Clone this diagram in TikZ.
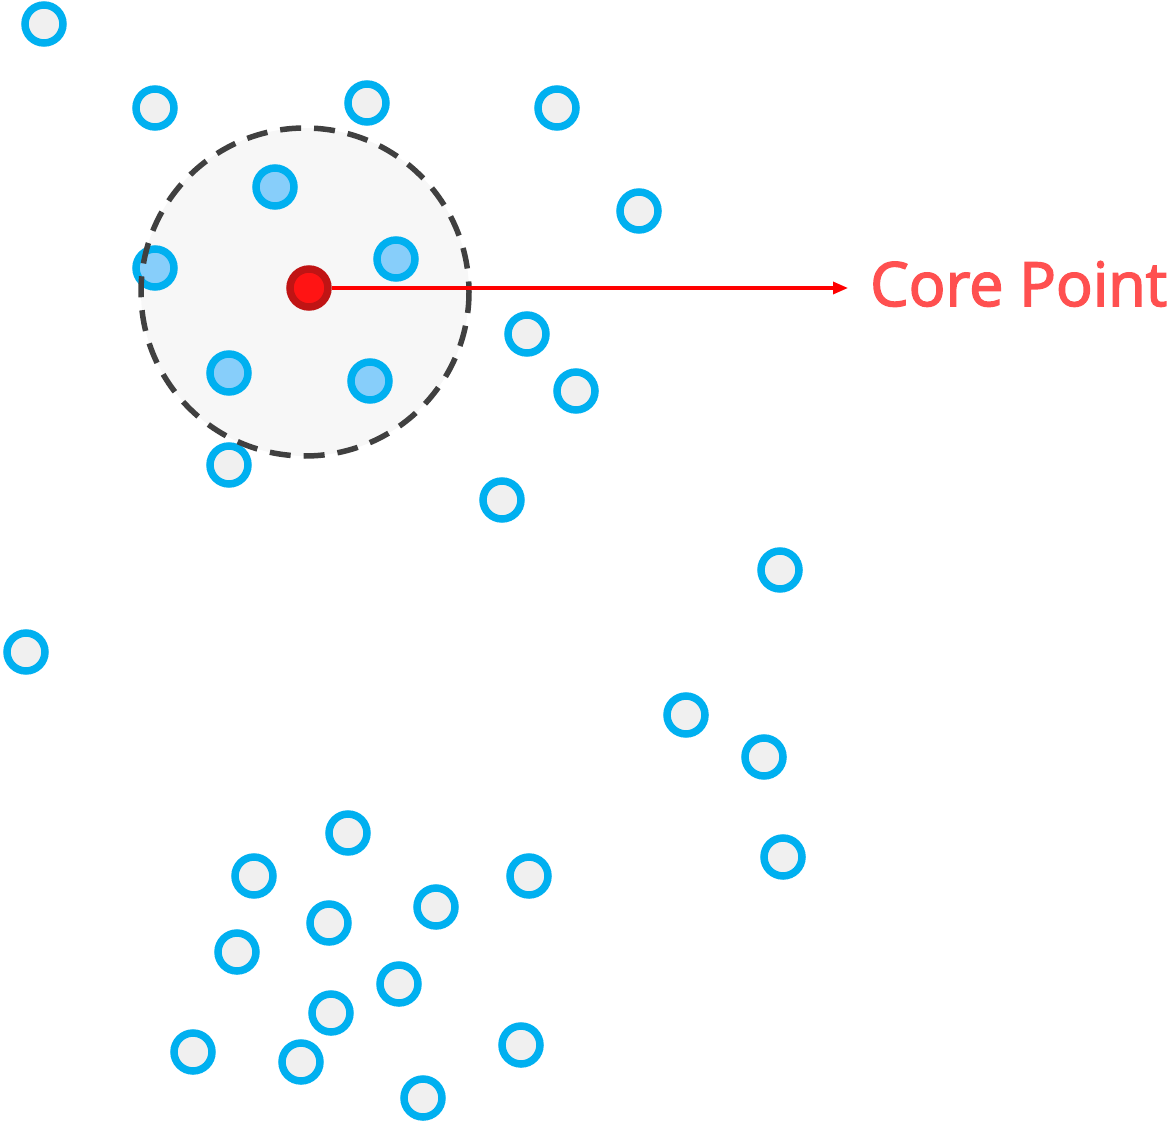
\documentclass[tikz,border=0pt]{standalone}
\usepackage{fontspec}
\setmainfont{Open Sans}
\newfontfamily\labelfont[FakeBold=2.5]{Open Sans}
\usepackage{tikz}
\usetikzlibrary{arrows.meta}
\definecolor{ptblue}{HTML}{00B0F0}
\definecolor{ptgray}{HTML}{F0F0F0}
\definecolor{nbfill}{HTML}{87CEFA}
\definecolor{corered}{HTML}{FF1414}
\definecolor{coreedge}{HTML}{C01414}
\definecolor{labelred}{HTML}{FF5050}
\definecolor{epsedge}{HTML}{404040}
\definecolor{epsfill}{HTML}{F7F7F7}

\begin{document}
\begin{tikzpicture}[x=1pt,y=-1pt,pt/.style={circle,inner sep=0pt,minimum size=38pt,line width=7.5pt,draw=ptblue,fill=ptgray},nbpt/.style={pt,fill=nbfill},corept/.style={pt,draw=coreedge,fill=corered},eps/.style={line width=5.5pt,draw=epsedge,dash pattern=on 21pt off 13pt}]
\useasboundingbox (0,0) rectangle (1173,1123);
\fill[epsfill] (305,292) circle (164);
\foreach \x/\y [count=\i] in {44/24,155/108,367/103,557/108,639/211,527/334,576/391,229/465,502/500,780/570,26/652,686/715,764/757,348/833,254/876,529/876,783/857,436/907,329/923,237/952,399/984,331/1013,193/1052,301/1062,521/1045,423/1098}
  \node[pt] (p\i) at (\x,\y) {};
\foreach \x/\y [count=\i] in {275/187,396/259,155/268,229/373,370/381}
  \node[nbpt] (n\i) at (\x,\y) {};
\draw[eps] (305,292) circle (164);
\node[corept] (core) at (309,288) {};
\coordinate (tip) at (848,288);
\draw[red,line width=3.2pt,-{Triangle[length=15pt,width=12pt]}] (core.east) -- (tip);
\node[anchor=base west,inner sep=0pt,text=labelred,font=\labelfont\fontsize{61}{70}\selectfont] (lbl) at (870,306) {Core Point};
\end{tikzpicture}
\end{document}
